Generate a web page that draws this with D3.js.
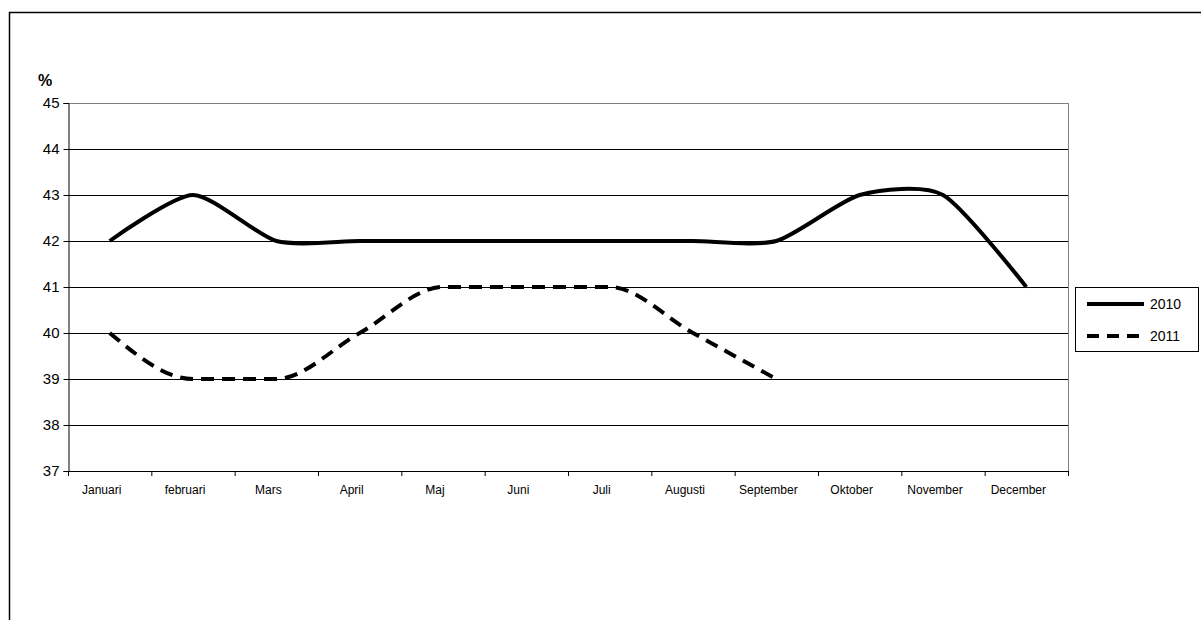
<!DOCTYPE html>
<html><head><meta charset="utf-8">
<script src="https://cdn.jsdelivr.net/npm/d3@7"></script>
<style>body{margin:0;background:#fff}text{font-family:Arial,"Liberation Sans",sans-serif}</style>
</head><body>
<svg id="c" width="1201" height="620"></svg>
<script>
const months = ["Januari","februari","Mars","April","Maj","Juni","Juli","Augusti","September","Oktober","November","December"];
const values2010 = [42,43,42,42,42,42,42,42,42,43,43,41];
const values2011 = [40,39,39,40,41,41,41,40,39];
const yTicks = [37,38,39,40,41,42,43,44,45];

const svg = d3.select("#c");
const pLeft = 68, pRight = 1068, pTop = 103, pBottom = 471;

svg.append("rect").attr("x",9.5).attr("y",12.5).attr("width",1200).attr("height",620)
  .attr("fill","none").attr("stroke","#000").attr("stroke-width",1.5);

const x = d3.scaleBand().domain(months).range([pLeft,pRight]);
const y = d3.scaleLinear().domain([37,45]).range([pBottom,pTop]);

// gridlines
svg.append("g").selectAll("line").data(yTicks.slice(1)).join("line")
  .attr("x1",pLeft).attr("x2",pRight).attr("y1",d=>y(d)+.5).attr("y2",d=>y(d)+.5)
  .attr("stroke",d=>d===45?"#808080":"#000").attr("stroke-width",1);
svg.append("line").attr("x1",pRight+.5).attr("x2",pRight+.5).attr("y1",pTop).attr("y2",pBottom)
  .attr("stroke","#808080");

const ya = svg.append("g").attr("transform",`translate(${pLeft+.5},0)`)
  .call(d3.axisLeft(y).tickValues(yTicks).tickSize(5).tickPadding(4));
const xa = svg.append("g").attr("transform",`translate(0,${pBottom+.5})`)
  .call(d3.axisBottom(x).tickSize(0).tickPadding(14));
xa.selectAll(".tick text").attr("dx",-8);
svg.append("g").selectAll("line").data(d3.range(13)).join("line")
  .attr("x1",i=>pLeft+i*x.step()+.5).attr("x2",i=>pLeft+i*x.step()+.5)
  .attr("y1",pBottom).attr("y2",pBottom+5).attr("stroke","#000");
[ya,xa].forEach(a=>{a.select(".domain").attr("stroke","#000");a.selectAll("line").attr("stroke","#000");});
ya.selectAll("text").attr("font-size",15).attr("fill","#000");
xa.selectAll("text").attr("font-size",12).attr("fill","#000");
xa.select(".domain").attr("d",`M${pLeft},0H${pRight}`);

svg.append("text").attr("x",38).attr("y",86).attr("font-size",16).attr("font-weight","bold").text("%");

const px = (d,i)=>x(months[i])+x.bandwidth()/2;
const line = d3.line().x(px).y(d=>y(d)).curve(d3.curveCardinal.tension(0.3));
const line11 = d3.line().x(px).y(d=>y(d)).curve(d3.curveMonotoneX);
svg.append("path").attr("d",line(values2010)).attr("fill","none").attr("stroke","#000").attr("stroke-width",4);
svg.append("path").attr("d",line11(values2011)).attr("fill","none").attr("stroke","#000").attr("stroke-width",4)
  .attr("stroke-dasharray","13,8");

// legend
const lg = svg.append("g");
lg.append("rect").attr("x",1075.5).attr("y",287.5).attr("width",123).attr("height",64)
  .attr("fill","#fff").attr("stroke","#000");
[["2010",null,304],["2011","12,8",336]].forEach(([t,dash,yy])=>{
  lg.append("line").attr("x1",1087).attr("x2",1144).attr("y1",yy).attr("y2",yy)
    .attr("stroke","#000").attr("stroke-width",4).attr("stroke-dasharray",dash);
  lg.append("text").attr("x",1150).attr("y",yy+5).attr("font-size",14).text(t);
});
</script>
</body></html>
